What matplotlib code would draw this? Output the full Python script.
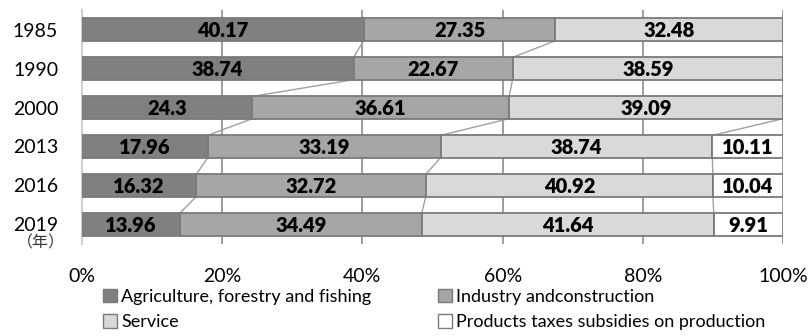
import matplotlib
matplotlib.use("Agg")
import matplotlib.pyplot as plt
from matplotlib.patches import Patch
import numpy as np

plt.rcParams['font.family'] = ['Lato', 'Noto Sans CJK JP', 'DejaVu Sans']

years = ["1985", "1990", "2000", "2013", "2016", "2019"]
agriculture = [40.17, 38.74, 24.3, 17.96, 16.32, 13.96]
industry = [27.35, 22.67, 36.61, 33.19, 32.72, 34.49]
service = [32.48, 38.59, 39.09, 38.74, 40.92, 41.64]
products = [0, 0, 0, 10.11, 10.04, 9.91]

series_names = ["Agriculture, forestry and fishing", "Industry andconstruction",
                "Service", "Products taxes subsidies on production"]
series_values = [agriculture, industry, service, products]
colors = ["#808080", "#a6a6a6", "#d9d9d9", "#ffffff"]
edge = "#7a7a7a"

fig = plt.figure(figsize=(8.1, 3.36), dpi=100)
ax = fig.add_axes([0.101, 0.274, 0.866, 0.696])

y = np.arange(len(years))
h = 0.57
left = np.zeros(len(years))
bounds = []
for vals, c in zip(series_values, colors):
    vals = np.array(vals, dtype=float)
    ax.barh(y, vals, left=left, height=h, color=c, edgecolor=edge,
            linewidth=1.3, zorder=3)
    for yi, (l, v) in enumerate(zip(left, vals)):
        if v > 0:
            ax.text(l + v / 2, yi + 0.03, f"{v:g}", ha="center", va="center",
                    fontsize=14.5, fontweight="heavy", color="black", zorder=5)
    left = left + vals
    bounds.append(left.copy())

# series lines joining segment ends of consecutive bars
for b in bounds:
    for i in range(len(years) - 1):
        ax.plot([b[i], b[i + 1]], [i + h / 2, i + 1 - h / 2],
                color="#a0a0a0", linewidth=1.0, zorder=2)

ax.set_xlim(0, 100)
ax.set_ylim(len(years) - 0.5, -0.5)
ax.set_xticks(np.arange(0, 101, 20))
ax.set_xticklabels([f"{t}%" for t in range(0, 101, 20)], fontsize=14)
ax.set_yticks(y)
ax.set_yticklabels(years, fontsize=14)
ax.tick_params(axis="x", length=0, pad=17)
ax.tick_params(axis="y", length=0, pad=17)
ax.xaxis.grid(True, color="#8c8c8c", linewidth=1.2, zorder=1)
ax.set_axisbelow(True)
for s in ["top", "bottom", "right"]:
    ax.spines[s].set_visible(False)
ax.spines["left"].set_color("#d0d0d0")
ax.spines["left"].set_linewidth(1.5)

fig.text(41 / 810, 1 - 243 / 336, "（年）", ha="center", va="center",
         fontsize=11.5, family=["Noto Sans CJK JP"], color="#333333")

# legend filled column-wise, so order entries to read row by row
order = [0, 2, 1, 3]
handles = [Patch(facecolor=colors[k], edgecolor=edge, linewidth=1.0) for k in order]
labels = [series_names[k] for k in order]
fig.legend(handles, labels, ncol=2, loc="upper left",
           bbox_to_anchor=(103 / 810, 1 - 289 / 336), frameon=False, fontsize=13,
           handlelength=0.75, handleheight=0.75, handletextpad=0.25,
           columnspacing=3.7, labelspacing=0.52, borderpad=0, borderaxespad=0)

fig.savefig("out.png", dpi=100)
